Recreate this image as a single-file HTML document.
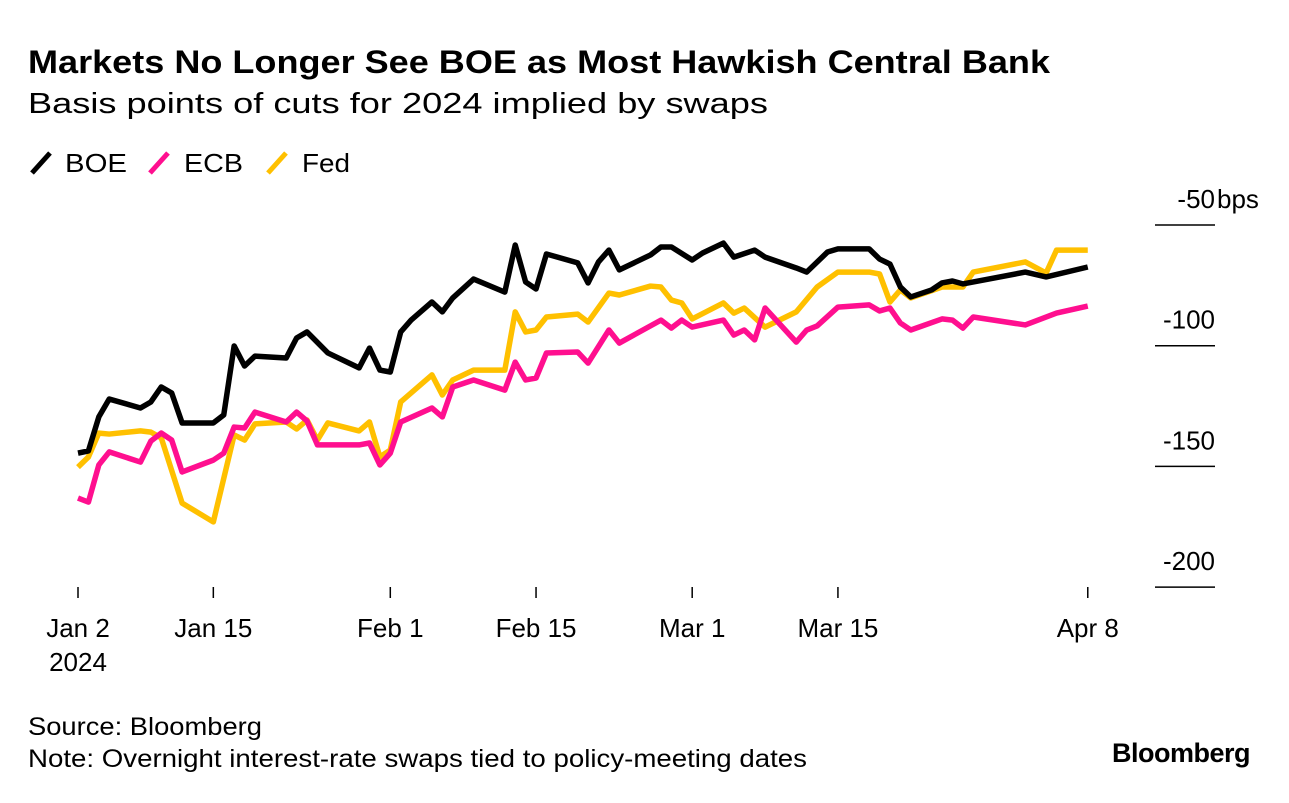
<!DOCTYPE html>
<html><head><meta charset="utf-8"><style>
body{margin:0;background:#fff;width:1289px;height:798px;overflow:hidden;font-family:"Liberation Sans",sans-serif}
</style></head><body>
<svg width="1289" height="798" xmlns="http://www.w3.org/2000/svg" style="font-family:'Liberation Sans',sans-serif">
<text x="28" y="73" font-size="32" font-weight="bold" fill="#000" textLength="1022" lengthAdjust="spacingAndGlyphs">Markets No Longer See BOE as Most Hawkish Central Bank</text>
<text x="28" y="113" font-size="29" fill="#000" textLength="740" lengthAdjust="spacingAndGlyphs">Basis points of cuts for 2024 implied by swaps</text>
<g font-size="26">
<g><line x1="32" y1="173" x2="50" y2="153" stroke="#000" stroke-width="5"/><text x="65" y="172" textLength="62" lengthAdjust="spacingAndGlyphs">BOE</text></g>
<g><line x1="150" y1="173" x2="168" y2="153" stroke="#ff0f8f" stroke-width="5"/><text x="184" y="172" textLength="59" lengthAdjust="spacingAndGlyphs">ECB</text></g>
<g><line x1="268" y1="173" x2="286" y2="153" stroke="#ffc000" stroke-width="5"/><text x="302" y="172" textLength="48" lengthAdjust="spacingAndGlyphs">Fed</text></g>
</g>
<g id="axes"></g>
<g id="series"></g>
<text x="28" y="735" font-size="25" textLength="234" lengthAdjust="spacingAndGlyphs">Source: Bloomberg</text>
<text x="28" y="767" font-size="25" textLength="779" lengthAdjust="spacingAndGlyphs">Note: Overnight interest-rate swaps tied to policy-meeting dates</text>
<text x="1250" y="762" font-size="27" font-weight="bold" text-anchor="end" letter-spacing="-0.5">Bloomberg</text>
</svg>
<script>
const boeDays=[0,1,2,3,6,7,8,9,10,13,14,15,16,17,20,21,22,24,27,28,29,30,31,32,34,35,36,38,41,42,43,44,45,48,49,50,51,52,55,56,57,59,60,62,63,65,66,69,70,72,73,76,77,78,79,80,82,83,84,85,91,93,97];
const boeValues=[-144.5,-143.6,-129.5,-122.1,-125.8,-123.3,-117.1,-119.6,-132,-132,-128.7,-100.1,-108.4,-104.3,-105.1,-96.8,-94.3,-103,-109.2,-101,-110.1,-110.9,-94.3,-89.4,-81.9,-86,-80.2,-72.4,-77.8,-58.3,-73.6,-76.5,-62,-65.7,-74,-65.3,-60.4,-68.6,-62.4,-59.1,-59.1,-64.5,-61.6,-57.5,-63.3,-60.4,-63.3,-67.8,-69.5,-61.2,-59.9,-59.9,-64.1,-66.2,-75.7,-79.8,-76.9,-74,-73.2,-74.4,-69.5,-71.5,-67.4];
const fedDays=[0,1,2,3,6,7,8,10,13,15,16,17,20,21,22,23,24,27,28,29,30,31,34,35,36,38,41,42,43,44,45,48,49,51,52,55,56,57,58,59,62,63,64,66,69,71,73,76,77,78,79,80,83,85,86,91,93,94,97];
const fedValues=[-150.3,-146.1,-136.2,-136.6,-135.3,-135.8,-138.2,-165.2,-173,-137,-139.1,-132.4,-131.6,-134.5,-130.8,-139.1,-132,-135.3,-131.6,-146.1,-143.2,-123.3,-112.1,-120.4,-114.2,-110.1,-110.1,-86,-94.3,-93.5,-88.1,-86.9,-90.2,-78.2,-79,-75.3,-75.7,-81.1,-82.3,-88.9,-82.3,-86.5,-84.4,-92.3,-86,-75.7,-69.5,-69.5,-70.3,-81.9,-76.9,-80.2,-75.7,-75.7,-69.5,-65.3,-69.9,-60.4,-60.4];
const ecbDays=[0,1,2,3,6,7,8,9,10,13,14,15,16,17,20,21,22,23,27,28,29,30,31,34,35,36,38,41,42,43,44,45,48,49,51,52,56,57,58,59,62,63,64,65,66,69,70,71,73,76,77,78,79,80,83,84,85,86,91,94,97];
const ecbValues=[-163.1,-164.8,-149.4,-144,-148.2,-139.5,-136.2,-139.1,-152.3,-147.4,-144.5,-133.7,-134.1,-127.5,-131.6,-127.5,-131.2,-141.1,-141.1,-140.3,-149.4,-144.5,-131.6,-125.8,-129.5,-117.1,-114.2,-118.4,-106.8,-114.2,-113.4,-103,-102.6,-107.2,-93.5,-98.9,-89.4,-92.7,-89.4,-92.3,-89.4,-95.6,-93.5,-97.6,-84.4,-98.5,-93.5,-91.8,-84,-83.1,-85.6,-84.4,-90.6,-93.5,-88.9,-89.4,-92.7,-88.1,-91.4,-86.5,-83.6];
const yTicks=[-50,-100,-150,-200];
const yTickLabels=["-50","-100","-150","-200"];
const xTickDays=[0,13,30,44,59,73,97];
const xTickLabels=["Jan 2","Jan 15","Feb 1","Feb 15","Mar 1","Mar 15","Apr 8"];
const NS="http://www.w3.org/2000/svg";
const xs=d=>78+d*10.41;
const ys=v=>225+(-50-v)*2.414;
const axes=document.getElementById('axes'),ser=document.getElementById('series');
function mk(tag,at,parent){const e=document.createElementNS(NS,tag);for(const k in at)e.setAttribute(k,at[k]);parent.appendChild(e);return e;}
yTicks.forEach((v,i)=>{
  const l=mk('line',{x1:1155,x2:1215,y1:ys(v),y2:ys(v),stroke:'#000','stroke-width':1.5},axes);
  
  
  const t=mk('text',{x:1215,y:ys(v)-17,'font-size':26,'text-anchor':'end'},axes);
  t.textContent=yTickLabels[i];
  
  
});
const u=mk('text',{x:1217,y:ys(-50)-17,'font-size':26},axes);u.textContent='bps';


xTickDays.forEach((d,i)=>{
  const l=mk('line',{x1:xs(d),x2:xs(d),y1:587,y2:598,stroke:'#000','stroke-width':1.5},axes);
  
  
  const t=mk('text',{x:xs(d),y:637,'font-size':26,'text-anchor':'middle'},axes);
  t.textContent=xTickLabels[i];
  
  
});
const yr=mk('text',{x:xs(0),y:671,'font-size':26,'text-anchor':'middle'},axes);yr.textContent='2024';


function line(dd,vv,color,name){
  const p=mk('polyline',{points:dd.map((d,i)=>xs(d)+','+ys(vv[i])).join(' '),fill:'none',stroke:color,'stroke-width':5.5,'stroke-linejoin':'round'},ser);
  
  
}
line(fedDays,fedValues,'#ffc000','fed-line');
line(ecbDays,ecbValues,'#ff0f8f','ecb-line');
line(boeDays,boeValues,'#000','boe-line');
</script>
</body></html>
